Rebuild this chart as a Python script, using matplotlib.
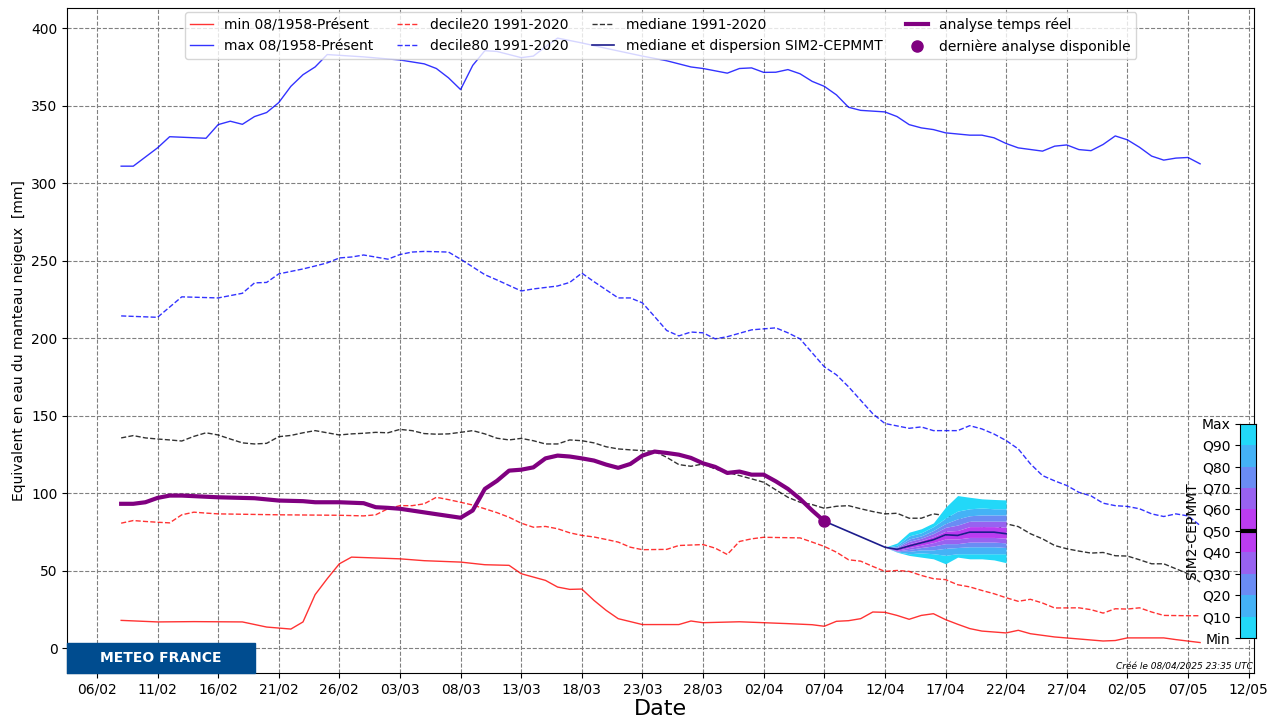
"""Equivalent en eau du manteau neigeux: analyse temps reel + climatologie + prevision SIM2-CEPMMT."""
import matplotlib
matplotlib.use("Agg")
import matplotlib.pyplot as plt
import matplotlib.dates as mdates
from matplotlib.patches import Rectangle
import numpy as np
import pandas as pd

T0 = pd.Timestamp("2025-02-08")

# ---- climatology (day offsets from 08/02, values in mm) -------------------
min_days = [0, 3, 6, 10, 12, 14, 15, 16, 17, 18, 19, 23, 25, 28, 30, 32, 33, 35, 36, 37,
            38, 39, 40, 41, 43, 46, 47, 48, 51, 55, 57, 58, 59, 60, 61, 62, 63, 64, 65, 66,
            67, 68, 69, 70, 71, 72, 73, 74, 75, 77, 79, 81, 82, 83, 86, 87, 89]
min_vals = [18, 17, 17.2, 17, 13.7, 12.4, 17, 34.6, 44.9, 54.5, 58.8, 57.7, 56.5, 55.6, 53.9,
            53.5, 48.1, 43.8, 39.5, 38, 38.2, 30.9, 24.5, 19.1, 15.3, 15.3, 17.6, 16.5, 17.1,
            15.9, 15.2, 14.2, 17.4, 17.8, 19.1, 23.4, 23.2, 21.2, 18.7, 21.2, 22.3, 18.5, 15.5,
            12.7, 11.1, 10.5, 9.9, 11.6, 9.4, 7.3, 6, 4.7, 5, 6.7, 6.7, 5.6, 3.7]

max_days = [0, 1, 3, 4, 7, 8, 9, 10, 11, 12, 13, 14, 15, 16, 17, 20, 23, 25, 26, 27, 28, 29,
            30, 31, 32, 33, 34, 35, 36, 38, 40, 43, 45, 47, 48, 50, 51, 52, 53, 54, 55, 56,
            57, 58, 59, 60, 61, 63, 64, 65, 66, 67, 68, 70, 71, 72, 73, 74, 76, 77, 78, 79,
            80, 81, 82, 83, 84, 85, 86, 87, 88, 89]
max_vals = [311, 311, 322.8, 330, 329, 337.8, 340, 338, 343, 345.6, 352, 362.5, 370, 375, 383,
            381.5, 379.5, 377, 374, 368, 360.4, 376, 385.5, 385, 383, 381, 382, 388, 393.6,
            390.5, 387, 382, 379, 375, 374, 371, 374, 374.4, 371.5, 371.6, 373.3, 370.6, 365.7,
            362.5, 357, 349, 347, 346, 343, 337.8, 335.7, 334.6, 332.5, 331, 331, 329.3, 325.6,
            322.8, 320.7, 323.9, 324.7, 321.7, 321, 325, 330.5, 328, 323.2, 317.5, 314.9,
            316.2, 316.6, 312.5]

d20_days = [0, 1, 2, 3, 4, 5, 6, 7, 8, 13, 18, 20, 21, 22, 23, 24, 25, 26, 27, 28, 29, 30,
            31, 32, 33, 34, 35, 36, 37, 38, 39, 40, 41, 42, 43, 45, 46, 48, 49, 50, 51, 52,
            53, 56, 57, 58, 59, 60, 61, 62, 63, 64, 65, 66, 67, 68, 69, 70, 71, 72, 73, 74,
            75, 76, 77, 79, 80, 81, 82, 83, 84, 85, 86, 88, 89]
d20_vals = [80.7, 82.4, 81.8, 81.3, 80.9, 86.1, 87.8, 87.2, 86.7, 86.1, 85.8, 85.4, 86.1, 90,
            92, 92, 93.2, 97.4, 95.9, 94.2, 92.4, 90, 87.5, 84.5, 80.7, 78.1, 78.6, 77.1, 74.5,
            72.8, 71.8, 70.2, 68.5, 65.2, 63.6, 63.8, 66.3, 66.9, 64.6, 60.5, 68.9, 70.6, 71.6,
            71.2, 68.5, 65.7, 62, 57.1, 56.2, 52.8, 49.6, 50.2, 49.6, 47, 44.9, 44.3, 41, 39.6,
            37.3, 35.2, 32.6, 30.3, 31.6, 29.2, 26, 26.1, 24.9, 22.7, 25.5, 25.3, 26.1, 23.4,
            21.2, 21, 21]

d80_days = [0, 2, 3, 5, 8, 10, 11, 12, 13, 15, 16, 17, 18, 19, 20, 22, 23, 24, 25, 27, 28,
            29, 30, 31, 33, 34, 36, 37, 38, 39, 41, 42, 43, 44, 45, 46, 47, 48, 49, 50, 52,
            54, 55, 56, 57, 58, 59, 60, 61, 62, 63, 65, 66, 67, 69, 70, 71, 72, 73, 74, 75,
            76, 77, 78, 79, 80, 81, 82, 83, 84, 85, 86, 87, 88, 89]
d80_vals = [214.4, 213.8, 213.5, 226.7, 226, 229, 235.7, 236, 241.5, 244.7, 246.6, 248.6,
            251.8, 252.4, 253.7, 251, 254, 255.6, 256, 255.6, 251, 246, 241, 237.6, 230.5,
            231.8, 233.7, 236, 242, 236.5, 226, 226, 222.8, 214, 205, 201.5, 204, 203.5, 199.6,
            201, 205.4, 206.7, 203.5, 199.6, 190.6, 181.6, 176.4, 168.7, 160, 151.3, 145,
            141.9, 142.8, 140.4, 140.4, 143.6, 141.5, 138.2, 134, 128.6, 119, 111.4, 108, 105,
            100.6, 98.3, 93.6, 92, 91.5, 90, 86.7, 85, 86.7, 85.4, 79.2]

med_days = list(range(0, 90))
med_vals = [135.7, 137.2, 135.7, 135, 134.4, 133.7, 136.7, 139, 137.6, 135, 132.5, 131.8,
            132.2, 136.5, 137.3, 139, 140.4, 139, 137.6, 138.3, 138.7, 139.3, 139, 141.2,
            140.4, 138.5, 138.1, 138.3, 139.3, 140.4, 138.3, 135.5, 134.4, 135.4, 133.9, 131.8,
            131.8, 134.4, 133.9, 132.5, 130, 128.6, 128, 127.5, 127, 123.2, 118.5, 117.4, 118.9,
            115.7, 113.5, 111.4, 109.3, 107.1, 102.2, 97.4, 94.2, 92.7, 90.3, 91.6, 92, 90,
            88.2, 86.7, 87.1, 83.9, 83.9, 86.7, 85.6, 84.1, 81.3, 78.1, 75.3, 80.3, 78.5, 73.9,
            70.6, 66.3, 64.2, 62.7, 61.4, 61.8, 59.7, 59.5, 57.1, 54.5, 54.5, 51.3, 48.1, 42.7]

# ---- real-time analysis -----------------------------------------------------
ana_days = [0, 1, 2, 3, 4, 5, 8, 11, 13, 15, 16, 18, 20, 21, 22, 23, 26, 28, 29, 30, 31, 32,
            33, 34, 35, 36, 37, 38, 39, 40, 41, 42, 43, 44, 45, 46, 47, 48, 49, 50, 51, 52,
            53, 54, 55, 56, 57, 58]
ana_vals = [93.2, 93.2, 94.2, 97, 98.5, 98.5, 97.4, 96.8, 95.3, 94.9, 94.2, 94.2, 93.6, 91,
            90.6, 90, 86.5, 84.2, 88.9, 102.8, 108, 114.6, 115.2, 116.7, 122.5, 124.3, 123.7,
            122.5, 121.1, 118.5, 116.4, 118.9, 124.3, 126.9, 126, 124.9, 122.8, 119.3, 117,
            113.1, 114, 112, 112, 107.7, 102.8, 96.4, 88.9, 82]

# ---- SIM2-CEPMMT forecast ---------------------------------------------------
fc_days = [58, 63, 64, 65, 66, 67, 68, 69, 70, 71, 72, 73]
fc_median = [82, 65.2, 63.8, 66.0, 68.0, 70.0, 73.2, 72.8, 74.9, 74.9, 74.9, 73.9]

fan_days = [63, 64, 65, 66, 67, 68, 69, 70, 71, 72, 73]
q_min = [65.2, 62.0, 59.9, 58.8, 57.7, 54.5, 58.8, 57.7, 57.7, 57.0, 55.2]
q10 = [65.2, 62.2, 61.0, 61.5, 61.0, 60.0, 61.0, 61.0, 61.0, 61.0, 61.0]
q20 = [65.2, 62.5, 62.5, 63.5, 63.5, 64.5, 65.0, 65.5, 65.5, 65.5, 65.0]
q30 = [65.2, 62.8, 63.8, 65.0, 66.0, 67.5, 67.5, 68.5, 68.5, 68.5, 68.0]
q40 = [65.2, 63.2, 65.0, 66.5, 68.2, 70.5, 70.5, 71.5, 71.5, 71.5, 71.0]
q50 = [65.2, 63.8, 66.0, 68.0, 70.0, 73.2, 72.8, 74.9, 74.9, 74.9, 73.9]
q60 = [65.2, 64.3, 67.5, 69.5, 72.0, 75.5, 76.0, 78.5, 78.5, 78.5, 78.0]
q70 = [65.2, 65.0, 69.0, 71.0, 74.0, 78.0, 79.5, 82.0, 82.0, 82.0, 82.0]
q80 = [65.2, 65.5, 70.5, 72.5, 76.0, 80.5, 83.5, 85.5, 86.0, 86.0, 86.0]
q90 = [65.2, 66.5, 72.5, 74.5, 78.5, 84.0, 88.5, 90.0, 90.5, 90.0, 90.0]
q_max = [65.2, 67.9, 74.9, 77.1, 80.9, 91.0, 98.5, 97.4, 96.4, 96.0, 95.7]

band_colors = ["#22d8f8", "#44b2f6", "#6a8cf4", "#9862f0", "#bb3cf0"]
cbar_labels = ["Min", "Q10", "Q20", "Q30", "Q40", "Q50", "Q60", "Q70", "Q80", "Q90", "Max"]


def dates(days):
    return T0 + pd.to_timedelta(np.asarray(days), unit="D")


fig = plt.figure(figsize=(12.68, 7.18), dpi=100)
ax = fig.add_axes([0.053, 0.063, 0.936, 0.926])

ax.plot(dates(min_days), min_vals, "-", color="red", lw=1, alpha=0.8, label="min 08/1958-Présent")
ax.plot(dates(max_days), max_vals, "-", color="blue", lw=1, alpha=0.8, label="max 08/1958-Présent")
ax.plot(dates(d20_days), d20_vals, "--", color="red", lw=1, alpha=0.8, label="decile20 1991-2020")
ax.plot(dates(d80_days), d80_vals, "--", color="blue", lw=1, alpha=0.8, label="decile80 1991-2020")
ax.plot(dates(med_days), med_vals, "--", color="black", lw=1, alpha=0.8, label="mediane 1991-2020")

# forecast fan (symmetric colours around the median)
qs = [q_min, q10, q20, q30, q40, q50, q60, q70, q80, q90, q_max]
fd = dates(fan_days)
for i in range(10):
    col = band_colors[min(i, 9 - i)]
    ax.fill_between(fd, qs[i], qs[i + 1], color=col, lw=0, zorder=2)
ax.plot(dates(fc_days), fc_median, "-", color="#1c1c8c", lw=1.2, zorder=3,
        label="mediane et dispersion SIM2-CEPMMT")

ax.plot(dates(ana_days), ana_vals, "-", color="purple", lw=3, zorder=4, label="analyse temps réel")
ax.plot(dates(ana_days[-1:]), ana_vals[-1:], "o", color="purple", ms=8, zorder=5, ls="none",
        label="dernière analyse disponible")

ax.set_xticks(pd.date_range("2025-02-06", "2025-05-12", freq="5D"))
ax.xaxis.set_major_formatter(mdates.DateFormatter("%d/%m"))
ax.set_yticks(np.arange(0, 401, 50))
ax.tick_params(labelsize=10)
ax.grid(True, linestyle="--", color="gray", lw=0.8)
ax.set_xlabel("Date", fontsize=16, labelpad=2)
ax.set_ylabel("Equivalent en eau du manteau neigeux  [mm]", fontsize=10)
ax.legend(loc="upper center", ncol=4, fontsize=10, borderaxespad=0.3,
          handlelength=1.6, columnspacing=1.7)

# colour scale for the dispersion
cax = fig.add_axes([0.978, 0.111, 0.0126, 0.299])
for i in range(10):
    cax.axhspan(i, i + 1, color=band_colors[min(i, 9 - i)], lw=0)
cax.axhline(5, color="black", lw=3)
cax.set_ylim(0, 10)
cax.set_xlim(0, 1)
cax.set_xticks([])
cax.set_yticks(range(11))
cax.set_yticklabels(cbar_labels, fontsize=10)
cax.set_ylabel("SIM2-CEPMMT", fontsize=10, labelpad=2)

# logo block + creation stamp
fig.patches.append(Rectangle((67 / 1268, 1 - 673 / 718), 188 / 1268, 30 / 718,
                             transform=fig.transFigure, color="#004c8f", zorder=10))
fig.text(161 / 1268, 1 - 658 / 718, "METEO FRANCE", color="white", fontsize=10,
         fontweight="bold", ha="center", va="center", zorder=11)
fig.text(1253 / 1268, 1 - 667 / 718, "Créé le 08/04/2025 23:35 UTC", fontsize=6.5,
         style="italic", ha="right", va="center")

fig.savefig("out.png", dpi=100)
